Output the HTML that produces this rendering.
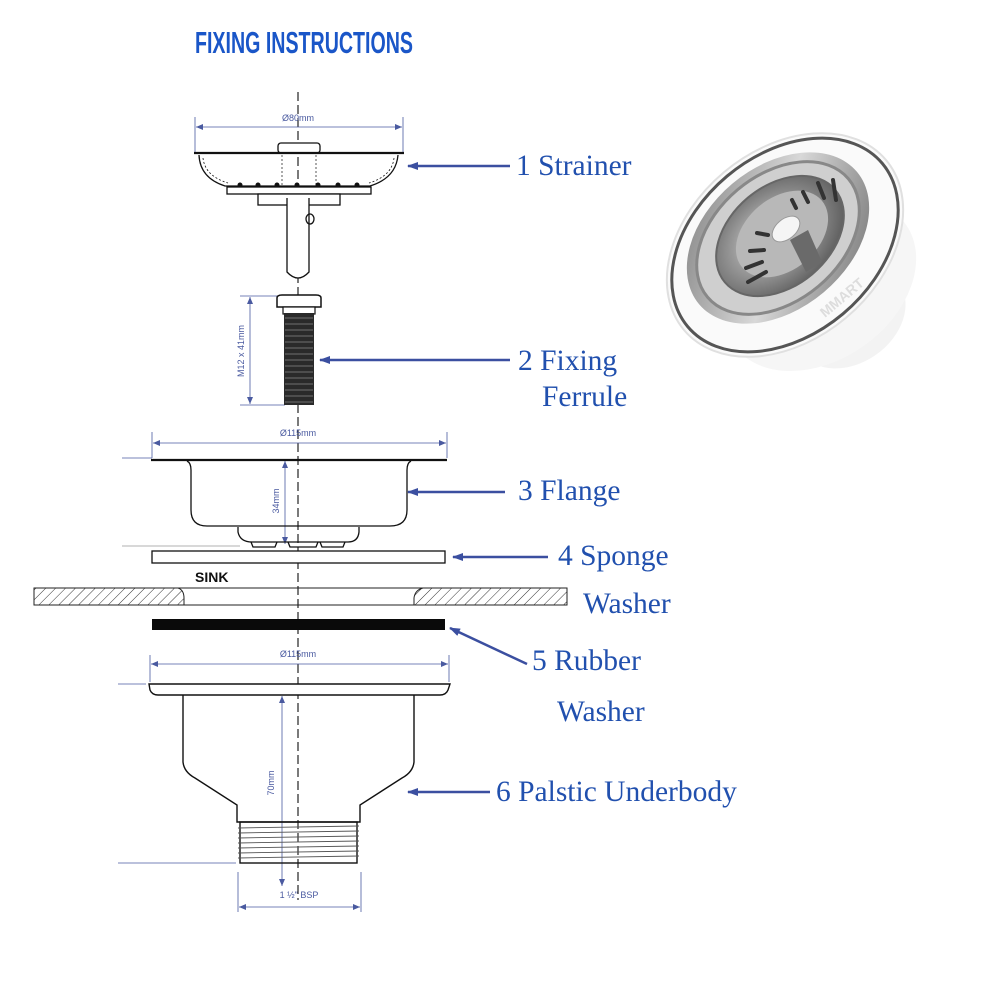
<!DOCTYPE html>
<html><head><meta charset="utf-8"><style>
html,body{margin:0;padding:0;background:#fff}
svg{display:block}
.lbl{font-family:"Liberation Serif",serif;font-size:29.5px;fill:#2150ae}
.dim{font-family:"Liberation Sans",sans-serif;font-size:9px;fill:#4a5aa0}
</style></head><body>
<svg width="1000" height="1000" viewBox="0 0 1000 1000" xmlns="http://www.w3.org/2000/svg">
<defs>
<pattern id="hatch" width="7" height="7" patternUnits="userSpaceOnUse" patternTransform="rotate(45)">
<line x1="0" y1="0" x2="0" y2="7" stroke="#333" stroke-width="1"/></pattern>
<marker id="ah" markerWidth="12" markerHeight="8" refX="10" refY="4" orient="auto" markerUnits="userSpaceOnUse">
<path d="M11,4 L0,0 L0,8 z" fill="#3b4fa0"/></marker>
<marker id="da" markerWidth="7" markerHeight="6" refX="7" refY="3" orient="auto-start-reverse" markerUnits="userSpaceOnUse">
<path d="M7,3 L0,0 L0,6 z" fill="#4a5aa0"/></marker>
<radialGradient id="steel" cx="0.45" cy="0.45" r="0.6">
<stop offset="0" stop-color="#e8e8e8"/><stop offset="0.5" stop-color="#9a9a9a"/><stop offset="1" stop-color="#5a5a5a"/></radialGradient>
<linearGradient id="ring" x1="0" y1="0" x2="1" y2="1">
<stop offset="0" stop-color="#7a7a7a"/><stop offset="0.5" stop-color="#d8d8d8"/><stop offset="1" stop-color="#6a6a6a"/></linearGradient>
</defs>

<text x="195" y="53" textLength="218" lengthAdjust="spacingAndGlyphs" style="font-family:'Liberation Sans Narrow','Liberation Sans',sans-serif;font-weight:bold;font-size:31px;fill:#1a56c8">FIXING INSTRUCTIONS</text>

<line x1="298" y1="92" x2="298" y2="900" stroke="#222" stroke-width="1.2" stroke-dasharray="9,4"/>

<!-- Strainer -->
<g stroke="#4a5aa0" stroke-width="0.8" fill="none">
<line x1="195" y1="117" x2="195" y2="152"/><line x1="403" y1="117" x2="403" y2="152"/>
<line x1="196" y1="127" x2="402" y2="127" marker-start="url(#da)" marker-end="url(#da)"/>
</g>
<text class="dim" x="298" y="121" text-anchor="middle">Ø80mm</text>
<g stroke="#111" fill="none" stroke-width="1.3">
<rect x="278" y="143" width="42" height="10" rx="3" fill="#fff"/>
<line x1="194" y1="153" x2="404" y2="153" stroke-width="2.2"/>
<path d="M199,155 Q200,178 225,186 L370,186 Q396,178 398,155"/>
<path d="M203,158 Q205,176 228,183 M394,158 Q392,176 369,183" stroke-dasharray="2,2" stroke-width="0.8"/>
<rect x="227" y="187" width="144" height="7" fill="#fff"/>
<rect x="258" y="194" width="82" height="11" fill="#fff"/>
<path d="M287,198 L287,272 Q298,284 309,272 L309,198" fill="#fff"/>
<ellipse cx="310" cy="219" rx="4" ry="5"/>
<line x1="282" y1="155" x2="282" y2="186" stroke-dasharray="2,2" stroke-width="0.7"/>
<line x1="316" y1="155" x2="316" y2="186" stroke-dasharray="2,2" stroke-width="0.7"/>
</g>
<g fill="#111"><circle cx="240" cy="185" r="2.5"/><circle cx="258" cy="185" r="2.5"/><circle cx="277" cy="185" r="2.5"/><circle cx="297" cy="185" r="2.5"/><circle cx="318" cy="185" r="2.5"/><circle cx="338" cy="185" r="2.5"/><circle cx="357" cy="185" r="2.5"/></g>
<line x1="510" y1="166" x2="408" y2="166" stroke="#3b4fa0" stroke-width="2.5" marker-end="url(#ah)"/>
<text class="lbl" x="516" y="175">1 Strainer</text>

<!-- Ferrule -->
<g stroke="#4a5aa0" stroke-width="0.8" fill="none">
<line x1="240" y1="296" x2="278" y2="296"/><line x1="240" y1="405" x2="285" y2="405"/>
<line x1="250" y1="297" x2="250" y2="404" marker-start="url(#da)" marker-end="url(#da)"/>
</g>
<text class="dim" x="0" y="0" transform="translate(244,351) rotate(-90)" text-anchor="middle">M12 x 41mm</text>
<path d="M277,298 Q277,295 282,295 L316,295 Q321,295 321,298 L321,307 L277,307 Z" fill="#fff" stroke="#111" stroke-width="1.5"/>
<rect x="283" y="307" width="32" height="7" fill="#fff" stroke="#111" stroke-width="1.2"/>
<rect x="284" y="313" width="30" height="92" fill="#2a2a2a"/>
<g stroke="#888" stroke-width="0.8">
<line x1="285" y1="318" x2="313" y2="318"/><line x1="285" y1="324" x2="313" y2="324"/><line x1="285" y1="330" x2="313" y2="330"/><line x1="285" y1="336" x2="313" y2="336"/><line x1="285" y1="342" x2="313" y2="342"/><line x1="285" y1="348" x2="313" y2="348"/><line x1="285" y1="354" x2="313" y2="354"/><line x1="285" y1="360" x2="313" y2="360"/><line x1="285" y1="366" x2="313" y2="366"/><line x1="285" y1="372" x2="313" y2="372"/><line x1="285" y1="378" x2="313" y2="378"/><line x1="285" y1="384" x2="313" y2="384"/><line x1="285" y1="390" x2="313" y2="390"/><line x1="285" y1="396" x2="313" y2="396"/><line x1="285" y1="402" x2="313" y2="402"/></g>
<line x1="510" y1="360" x2="320" y2="360" stroke="#3b4fa0" stroke-width="2.5" marker-end="url(#ah)"/>
<text class="lbl" x="518" y="370">2 Fixing</text>
<text class="lbl" x="542" y="406">Ferrule</text>

<!-- Flange -->
<g stroke="#4a5aa0" stroke-width="0.8" fill="none">
<line x1="152" y1="432" x2="152" y2="458"/><line x1="447" y1="432" x2="447" y2="458"/>
<line x1="153" y1="443" x2="446" y2="443" marker-start="url(#da)" marker-end="url(#da)"/>
<line x1="122" y1="458" x2="152" y2="458"/>
<line x1="285" y1="461" x2="285" y2="544" marker-start="url(#da)" marker-end="url(#da)"/>
</g>
<line x1="122" y1="546" x2="240" y2="546" stroke="#999" stroke-width="0.8"/>
<text class="dim" x="298" y="436" text-anchor="middle">Ø115mm</text>
<text class="dim" x="0" y="0" transform="translate(279,501) rotate(-90)" text-anchor="middle">34mm</text>
<g stroke="#111" fill="none" stroke-width="1.3">
<line x1="151" y1="460" x2="447" y2="460" stroke-width="2.2"/>
<path d="M187,461 Q191,463 191,470 L191,510 Q191,526 207,526 L390,526 Q407,526 407,510 L407,470 Q407,463 411,461"/>
<path d="M238,527 L238,532 Q240,542 252,542 L348,542 Q358,542 359,532 L359,527"/>
<path d="M251,542 L253,547 L275,547 L277,542 M288,542 L290,547 L316,547 L318,542 M320,542 L322,547 L343,547 L345,542"/>
</g>
<line x1="505" y1="492" x2="408" y2="492" stroke="#3b4fa0" stroke-width="2.5" marker-end="url(#ah)"/>
<text class="lbl" x="518" y="500">3 Flange</text>

<!-- Sponge -->
<rect x="152" y="551" width="293" height="12" fill="#fff" stroke="#111" stroke-width="1.3"/>
<line x1="548" y1="557" x2="453" y2="557" stroke="#3b4fa0" stroke-width="2.5" marker-end="url(#ah)"/>
<text class="lbl" x="558" y="565">4 Sponge</text>
<text class="lbl" x="583" y="613">Washer</text>

<!-- Sink -->
<text x="195" y="582" style="font-family:'Liberation Sans',sans-serif;font-weight:bold;font-size:14px;fill:#111">SINK</text>
<path d="M34,588 L178,588 Q184,590 184,598 L184,605 L34,605 Z" fill="url(#hatch)" stroke="#222" stroke-width="1"/>
<path d="M567,588 L423,588 Q415,590 414,598 L414,605 L567,605 Z" fill="url(#hatch)" stroke="#222" stroke-width="1"/>
<line x1="178" y1="588" x2="423" y2="588" stroke="#222" stroke-width="1"/>
<line x1="184" y1="605" x2="414" y2="605" stroke="#222" stroke-width="1"/>

<!-- Rubber -->
<rect x="152" y="619" width="293" height="11" fill="#0a0a0a"/>
<line x1="527" y1="664" x2="450" y2="628" stroke="#3b4fa0" stroke-width="2.5" marker-end="url(#ah)"/>
<text class="lbl" x="532" y="670">5 Rubber</text>
<text class="lbl" x="557" y="721">Washer</text>

<!-- Underbody -->
<g stroke="#4a5aa0" stroke-width="0.8" fill="none">
<line x1="150" y1="655" x2="150" y2="682"/><line x1="449" y1="655" x2="449" y2="682"/>
<line x1="151" y1="664" x2="448" y2="664" marker-start="url(#da)" marker-end="url(#da)"/>
<line x1="118" y1="684" x2="146" y2="684"/>
<line x1="282" y1="696" x2="282" y2="886" marker-start="url(#da)" marker-end="url(#da)"/>
<line x1="238" y1="872" x2="238" y2="912"/><line x1="361" y1="872" x2="361" y2="912"/>
<line x1="239" y1="907" x2="360" y2="907" marker-start="url(#da)" marker-end="url(#da)"/>
</g>
<line x1="118" y1="863" x2="236" y2="863" stroke="#4a5aa0" stroke-width="0.8"/>
<text class="dim" x="298" y="657" text-anchor="middle">Ø115mm</text>
<text class="dim" x="0" y="0" transform="translate(274,783) rotate(-90)" text-anchor="middle">70mm</text>
<text class="dim" x="299" y="898" text-anchor="middle">1 ½" BSP</text>
<g stroke="#111" fill="none" stroke-width="1.4">
<path d="M149,684 L450,684 L448,690 Q446,695 440,695 L158,695 Q152,695 150,690 Z" fill="#fff"/>
<path d="M183,695 L183,762 Q184,772 195,778 L237,805 L237,822 L360,822 L360,805 L402,778 Q413,772 414,762 L414,695"/>
<rect x="240" y="822" width="117" height="41"/>
</g>
<g stroke="#555" stroke-width="0.9">
<line x1="238" y1="828" x2="359" y2="826"/><line x1="238" y1="833" x2="359" y2="831"/><line x1="238" y1="838" x2="359" y2="836"/><line x1="238" y1="843" x2="359" y2="841"/><line x1="238" y1="848" x2="359" y2="846"/><line x1="238" y1="853" x2="359" y2="851"/><line x1="238" y1="858" x2="359" y2="856"/></g>
<line x1="490" y1="792" x2="408" y2="792" stroke="#3b4fa0" stroke-width="2.5" marker-end="url(#ah)"/>
<text class="lbl" x="496" y="801">6 Palstic Underbody</text>

<!-- Product photo -->
<g>
<ellipse cx="850" cy="318" rx="60" ry="45" fill="#f3f3f3" transform="rotate(-35 850 318)"/>
<ellipse cx="820" cy="285" rx="105" ry="75" fill="#f6f6f6" transform="rotate(-35 820 285)"/>
<ellipse cx="785" cy="245" rx="132" ry="95" fill="#fafafa" stroke="#e0e0e0" stroke-width="2" transform="rotate(-40 785 245)"/>
<ellipse cx="785" cy="245" rx="127" ry="90" fill="none" stroke="#555" stroke-width="3" transform="rotate(-40 785 245)"/>
<ellipse cx="778" cy="238" rx="103" ry="71" fill="url(#ring)" transform="rotate(-40 778 238)"/>
<ellipse cx="778" cy="238" rx="92" ry="63" fill="#cfcfcf" stroke="#888" stroke-width="3" transform="rotate(-40 778 238)"/>
<ellipse cx="780" cy="236" rx="72" ry="50" fill="url(#steel)" stroke="#666" stroke-width="2" transform="rotate(-40 780 236)"/>
<ellipse cx="782" cy="234" rx="52" ry="36" fill="#b8b8b8" transform="rotate(-40 782 234)"/>
<g stroke="#333" stroke-width="4" stroke-linecap="round">
<line x1="818" y1="183" x2="824" y2="198"/><line x1="833" y1="180" x2="836" y2="200"/><line x1="803" y1="192" x2="808" y2="202"/><line x1="792" y1="200" x2="796" y2="208"/><line x1="757" y1="233" x2="768" y2="235"/><line x1="750" y1="251" x2="764" y2="250"/><line x1="746" y1="268" x2="762" y2="262"/><line x1="748" y1="282" x2="766" y2="272"/></g>
<path d="M790,240 L808,230 L822,262 L806,272 Z" fill="#6a6a6a"/>
<ellipse cx="786" cy="229" rx="16" ry="10" fill="#f5f5f5" stroke="#999" transform="rotate(-40 786 229)"/>
<text x="0" y="0" transform="translate(825,318) rotate(-40)" style="font-family:'Liberation Sans',sans-serif;font-weight:bold;font-size:14px;fill:#ddd">MMART</text>
</g>
</svg>
</body></html>
